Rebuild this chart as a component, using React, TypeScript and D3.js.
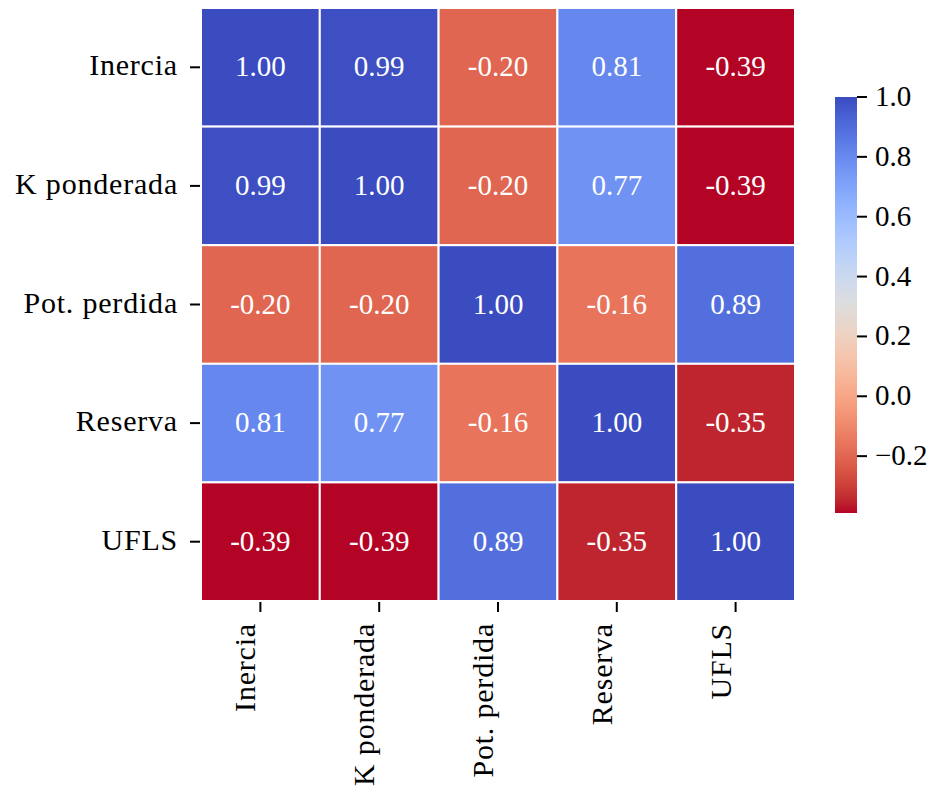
import React from "react";
import * as d3 from "d3";

// Variables of the correlation matrix (rows and columns share the order)
const variables = ["Inercia", "K ponderada", "Pot. perdida", "Reserva", "UFLS"];

// Correlation values, one array per row
const rowInercia = [1.0, 0.99, -0.2, 0.81, -0.39];
const rowKPonderada = [0.99, 1.0, -0.2, 0.77, -0.39];
const rowPotPerdida = [-0.2, -0.2, 1.0, -0.16, 0.89];
const rowReserva = [0.81, 0.77, -0.16, 1.0, -0.35];
const rowUFLS = [-0.39, -0.39, 0.89, -0.35, 1.0];
const matrix = [rowInercia, rowKPonderada, rowPotPerdida, rowReserva, rowUFLS];

// Colorbar tick values
const colorbarTicks = [-0.2, 0.0, 0.2, 0.4, 0.6, 0.8, 1.0];

// Matplotlib "coolwarm" anchor points (33 evenly spaced samples)
const cwRed = [0.2298057, 0.26623388, 0.30386891, 0.342804478, 0.38301334, 0.424369608, 0.46666708, 0.509635204, 0.552953156, 0.596262162, 0.639176211, 0.681291281, 0.722193294, 0.761464949, 0.798691636, 0.833466556, 0.865395197, 0.897787179, 0.924127593, 0.944468518, 0.958852946, 0.96732803, 0.969954137, 0.966811177, 0.958003065, 0.943660866, 0.923944917, 0.89904617, 0.869186849, 0.834620542, 0.795631745, 0.752534934, 0.705673158];
const cwGreen = [0.298717966, 0.353094838, 0.406535296, 0.458757618, 0.50941904, 0.558148092, 0.604562568, 0.648280772, 0.688929332, 0.726149107, 0.759599947, 0.788964712, 0.813952739, 0.834302879, 0.849786142, 0.860207984, 0.86541021, 0.848937047, 0.827384882, 0.800927443, 0.769767752, 0.734132809, 0.694266682, 0.650421156, 0.602842431, 0.551750968, 0.49730856, 0.439559467, 0.378313092, 0.312874446, 0.24128379, 0.157246067, 0.01555616];
const cwBlue = [0.753683153, 0.801466763, 0.84495867, 0.883725899, 0.917387822, 0.945619588, 0.968154911, 0.98478814, 0.995375608, 0.999836203, 0.998151185, 0.990363227, 0.976574709, 0.956945269, 0.931688648, 0.901068838, 0.865395561, 0.820880546, 0.774508472, 0.726736146, 0.678007945, 0.628751763, 0.579375448, 0.530263762, 0.481775914, 0.434243684, 0.387970225, 0.343229596, 0.300267182, 0.259301199, 0.220525627, 0.184115123, 0.150232812];

const W = 940;
const H = 792;
const FONT = "'Liberation Serif', 'Times New Roman', serif";
const FS = 30;

const gridLeft = 201;
const gridRight = 795;
const gridTop = 8;
const gridBottom = 601;

const cbLeft = 835;
const cbWidth = 22;
const cbTop = 97;
const cbBottom = 513;

function coolwarm(t: number): [number, number, number] {
  const tt = Math.max(0, Math.min(1, t));
  const n = cwRed.length - 1;
  const pos = tt * n;
  const i = Math.min(n - 1, Math.floor(pos));
  const f = pos - i;
  const lerp = (a: number[]) => a[i] + (a[i + 1] - a[i]) * f;
  return [lerp(cwRed), lerp(cwGreen), lerp(cwBlue)];
}

function toCss(c: [number, number, number]) {
  return d3.rgb(c[0] * 255, c[1] * 255, c[2] * 255).formatHex();
}

function luminance(c: [number, number, number]) {
  const lin = c.map((v) => (v <= 0.03928 ? v / 12.92 : Math.pow((v + 0.055) / 1.055, 2.4)));
  return 0.2126 * lin[0] + 0.7152 * lin[1] + 0.0722 * lin[2];
}

const fmtTick = (v: number) => d3.format(".1f")(v).replace("-", "\u2212");
const fmtCell = (v: number) => v.toFixed(2);

export default function App() {
  const all = matrix.flat();
  const vmin = d3.min(all) as number;
  const vmax = d3.max(all) as number;

  // reversed coolwarm: high values blue, low values red
  const norm = d3.scaleLinear().domain([vmin, vmax]).range([1, 0]).clamp(true);
  const colorOf = (v: number) => coolwarm(norm(v));

  const x = d3.scaleBand<string>().domain(variables).range([gridLeft, gridRight]);
  const y = d3.scaleBand<string>().domain(variables).range([gridTop, gridBottom]);
  const cbScale = d3.scaleLinear().domain([vmin, vmax]).range([cbBottom, cbTop]);

  const gradStops = d3.range(0, 65).map((k) => {
    const t = k / 64; // 0 at top of bar (vmax) to 1 at bottom (vmin)
    const v = vmax - t * (vmax - vmin);
    return { offset: t, color: toCss(colorOf(v)) };
  });

  const labelStyle = { fontFamily: FONT, fontSize: FS, letterSpacing: "0.8px" };
  const numStyle = { fontFamily: FONT, fontSize: 29 };

  return (
    <svg
      width={W}
      height={H}
      style={{ position: "absolute", left: 0, top: 0, background: "#fff" }}
    >
      <defs>
        <linearGradient id="cbGrad" x1="0" y1="0" x2="0" y2="1">
          {gradStops.map((s, i) => (
            <stop key={i} offset={s.offset} stopColor={s.color} />
          ))}
        </linearGradient>
      </defs>

      {/* heatmap cells */}
      <g>
        {matrix.map((row, ri) =>
          row.map((v, ci) => {
            const c = colorOf(v);
            const cx = (x(variables[ci]) as number) + x.bandwidth() / 2;
            const cy = (y(variables[ri]) as number) + y.bandwidth() / 2;
            return (
              <g key={`${ri}-${ci}`}>
                <rect
                  x={x(variables[ci])}
                  y={y(variables[ri])}
                  width={x.bandwidth()}
                  height={y.bandwidth()}
                  fill={toCss(c)}
                  stroke="#fff"
                  strokeWidth={2}
                />
                <text
                  x={cx}
                  y={cy + 9}
                  textAnchor="middle"
                  style={numStyle}
                  fill={luminance(c) > 0.408 ? "#262626" : "#fff"}
                >
                  {fmtCell(v)}
                </text>
              </g>
            );
          })
        )}
      </g>

      {/* y axis */}
      <g>
        {variables.map((name) => {
          const cy = (y(name) as number) + y.bandwidth() / 2;
          return (
            <g key={name}>
              <line x1={gridLeft - 11} x2={gridLeft - 1} y1={cy} y2={cy} stroke="#000" strokeWidth={2} />
              <text x={178} y={cy + 8} textAnchor="end" style={labelStyle} fill="#000">
                {name}
              </text>
            </g>
          );
        })}
      </g>

      {/* x axis */}
      <g>
        {variables.map((name) => {
          const cx = (x(name) as number) + x.bandwidth() / 2;
          return (
            <g key={name}>
              <line x1={cx} x2={cx} y1={gridBottom + 1} y2={gridBottom + 11} stroke="#000" strokeWidth={2} />
              <text
                transform={`translate(${cx - 5},${623}) rotate(-90)`}
                textAnchor="end"
                style={labelStyle}
                fill="#000"
              >
                {name}
              </text>
            </g>
          );
        })}
      </g>

      {/* colorbar */}
      <g>
        <rect x={cbLeft} y={cbTop} width={cbWidth} height={cbBottom - cbTop} fill="url(#cbGrad)" />
        {colorbarTicks.map((t) => {
          const ty = cbScale(t);
          return (
            <g key={t}>
              <line x1={cbLeft + cbWidth} x2={cbLeft + cbWidth + 10} y1={ty} y2={ty} stroke="#000" strokeWidth={2} />
              <text x={cbLeft + cbWidth + 18} y={ty + 9} style={numStyle} fill="#000">
                {fmtTick(t)}
              </text>
            </g>
          );
        })}
      </g>
    </svg>
  );
}
